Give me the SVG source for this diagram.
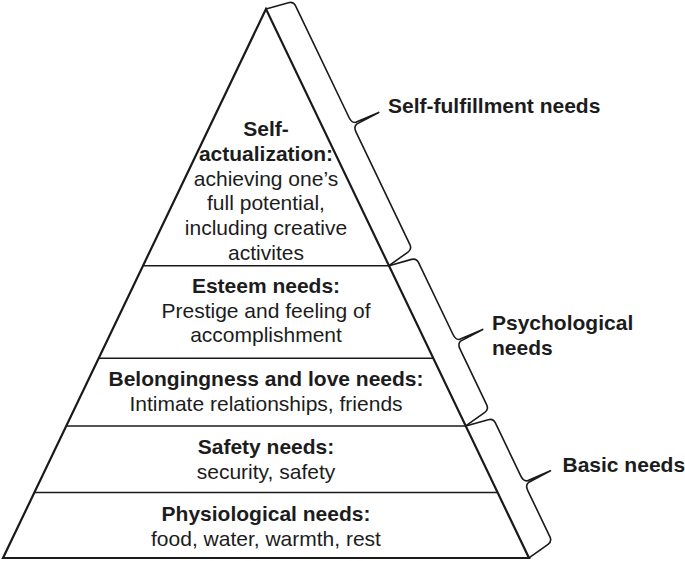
<svg xmlns="http://www.w3.org/2000/svg" width="685" height="561" viewBox="0 0 685 561">
<style>
  text { font-family: "Liberation Sans", Arial, Helvetica, sans-serif; font-size: 21px; fill: #1c1c1c; text-anchor: middle; }
  .b { font-weight: bold; }
  .lbl { text-anchor: start; font-weight: bold; }
  .edge { fill: none; stroke: #1a1a1a; stroke-width: 2.2; stroke-linejoin: miter; }
  .tier { stroke: #1a1a1a; stroke-width: 1.6; fill: none; }
  .brace { fill: none; stroke: #1a1a1a; stroke-width: 1.6; stroke-linejoin: round; stroke-linecap: round; }
</style>
<rect width="685" height="561" fill="#ffffff"/>

<g id="pyramid">
  <polygon class="edge" points="266,9 3,558 529,558"/>
  <line class="tier" x1="143" y1="265.7" x2="389" y2="265.7"/>
  <line class="tier" x1="98.7" y1="358.3" x2="433.3" y2="358.3"/>
  <line class="tier" x1="66.2" y1="426" x2="465.8" y2="426"/>
  <line class="tier" x1="34.4" y1="492.5" x2="497.6" y2="492.5"/>
</g>

<g id="self-actualization">
  <text class="b" x="266" y="136">Self-</text>
  <text class="b" x="266" y="161">actualization:</text>
  <text x="266" y="185.5">achieving one’s</text>
  <text x="266" y="210">full potential,</text>
  <text x="266" y="235">including creative</text>
  <text x="266" y="259.5">activites</text>
</g>

<g id="esteem">
  <text class="b" x="266" y="293">Esteem needs:</text>
  <text x="266" y="317.5">Prestige and feeling of</text>
  <text x="266" y="342">accomplishment</text>
</g>

<g id="belongingness">
  <text class="b" x="266" y="386">Belongingness and love needs:</text>
  <text x="266" y="410.5">Intimate relationships, friends</text>
</g>

<g id="safety">
  <text class="b" x="266" y="454">Safety needs:</text>
  <text x="266" y="479">security, safety</text>
</g>

<g id="physiological">
  <text class="b" x="266" y="521">Physiological needs:</text>
  <text x="266" y="546">food, water, warmth, rest</text>
</g>

<g id="connectors">
  <path class="brace" transform="translate(266,9) rotate(64.4) scale(1,-1)"
        d="M0,0 L4,23 Q5,28 10,28 L134,28 Q140,28 141,32 L142,57 L143,32 Q144,28 150,28 L274.6,28 Q279.6,28 280.6,23 L284.6,0"/>
  <path class="brace" transform="translate(389,265.7) rotate(64.4) scale(1,-1)"
        d="M0,0 L4,23 Q5,28 10,28 L90,28 Q96,28 97,32 L98,57 L99,32 Q100,28 106,28 L167.7,28 Q172.7,28 173.7,23 L177.7,0"/>
  <path class="brace" transform="translate(465.8,426) rotate(64.4) scale(1,-1)"
        d="M0,0 L4,23 Q5,28 10,28 L69,28 Q75,28 76,32 L77,57 L78,32 Q79,28 85,28 L136.3,28 Q141.3,28 142.3,23 L146.3,0"/>
</g>

<g id="self-fulfillment-label">
  <text class="lbl" x="388" y="113">Self-fulfillment needs</text>
</g>
<g id="psychological-label">
  <text class="lbl" x="492" y="330">Psychological</text>
  <text class="lbl" x="492" y="354.5">needs</text>
</g>
<g id="basic-label">
  <text class="lbl" x="562.5" y="472">Basic needs</text>
</g>
</svg>
